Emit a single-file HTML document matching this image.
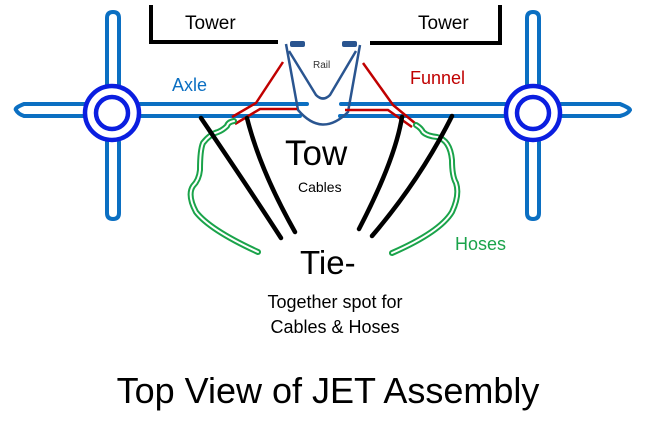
<!DOCTYPE html>
<html><head><meta charset="utf-8"><style>
html,body{margin:0;padding:0;background:#fff;width:658px;height:428px;overflow:hidden}
svg{display:block}
text{font-family:"Liberation Sans",sans-serif}
</style></head><body>
<svg width="658" height="428" viewBox="0 0 658 428">
<!-- Towers -->
<path d="M151,5 V42 H278" fill="none" stroke="#000" stroke-width="4"/>
<path d="M370,43 H500 V5" fill="none" stroke="#000" stroke-width="4"/>
<text x="185" y="29" font-size="19">Tower</text>
<text x="418" y="29" font-size="19">Tower</text>

<!-- Axles (double lines) -->
<g fill="none" stroke="#0b6fc2" stroke-width="4" stroke-linecap="round">
<path d="M85,104 H24 Q14,108 16,110 Q18,114 24,116 H85"/>
<path d="M140,104 H307 M140,116 H300"/>
<path d="M341,104 H505 M340,116 H505"/>
<path d="M561,104 H620 Q630,108 630,110 Q628,114 620,116 H561"/>
<path d="M107,86 V18 Q107,12 113,12 Q119,12 119,18 V86"/>
<path d="M107,142 V213 Q107,219 113,219 Q119,219 119,213 V142"/>
<path d="M527,86 V18 Q527,12 533,12 Q539,12 539,18 V86"/>
<path d="M527,142 V213 Q527,219 533,219 Q539,219 539,213 V142"/>
</g>
<!-- Wheels -->
<g fill="none" stroke="#0a1ee0" stroke-width="4.5">
<circle cx="112" cy="113" r="27" fill="#fff"/>
<circle cx="112" cy="113" r="16"/>
<circle cx="533" cy="113" r="27" fill="#fff"/>
<circle cx="533" cy="113" r="16"/>
</g>

<!-- Rail -->
<g fill="none" stroke="#2a5590" stroke-width="2.5">
<path d="M286,44 L298,110 Q322,138 348,112 L360,45"/>
<path d="M289,51 L316,95 Q323,102 330,95 L356,51"/>
</g>
<rect x="290" y="41" width="15" height="6" rx="2" fill="#2a5590"/>
<rect x="342" y="41" width="15" height="6" rx="2" fill="#2a5590"/>
<text x="313" y="68" font-size="10" fill="#333">Rail</text>

<!-- Funnel red -->
<g fill="none" stroke="#c00000" stroke-width="2.5">
<path d="M283,62 L256,103 L232,117"/>
<path d="M297,109 H260 L235,124"/>
<path d="M363,63 L393,105 L416,124"/>
<path d="M345,110 H388 L412,127"/>
</g>

<!-- Hoses green double -->
<g fill="none" stroke-linecap="round" stroke-linejoin="round">
<path d="M234,121 Q228,122 227,126 Q223,130 218,132 Q210,134 203,143 Q200,150 200,170 Q199,180 193,186 Q187,195 196,212 Q210,230 258,252" stroke="#1aa34a" stroke-width="6"/>
<path d="M234,121 Q228,122 227,126 Q223,130 218,132 Q210,134 203,143 Q200,150 200,170 Q199,180 193,186 Q187,195 196,212 Q210,230 258,252" stroke="#fff" stroke-width="2"/>
<path d="M416,125 Q421,128 423,132 Q427,136 437,137 Q450,140 452,160 Q452,176 456,183 Q460,195 452,212 Q440,232 392,253" stroke="#1aa34a" stroke-width="6"/>
<path d="M416,125 Q421,128 423,132 Q427,136 437,137 Q450,140 452,160 Q452,176 456,183 Q460,195 452,212 Q440,232 392,253" stroke="#fff" stroke-width="2"/>
</g>

<!-- Cables black -->
<g fill="none" stroke="#000" stroke-width="4.5" stroke-linecap="round">
<path d="M201,118 Q250,190 281,238"/>
<path d="M247,118 Q260,170 295,232"/>
<path d="M452,116 Q420,180 372,236"/>
<path d="M402,117 Q395,160 359,229"/>
</g>

<text x="172" y="91" font-size="18" fill="#0b6fc2">Axle</text>
<text x="410" y="84" font-size="18" fill="#c00000">Funnel</text>
<text x="285" y="165" font-size="35">Tow</text>
<text x="298" y="192" font-size="14">Cables</text>
<text x="455" y="250" font-size="18" fill="#1aa34a">Hoses</text>
<text x="300" y="274" font-size="33">Tie-</text>
<text x="335" y="308" font-size="18" text-anchor="middle">Together spot for</text>
<text x="335" y="333" font-size="18" text-anchor="middle">Cables &amp; Hoses</text>
<text x="328" y="403" font-size="36" text-anchor="middle">Top View of JET Assembly</text>
</svg>
</body></html>
